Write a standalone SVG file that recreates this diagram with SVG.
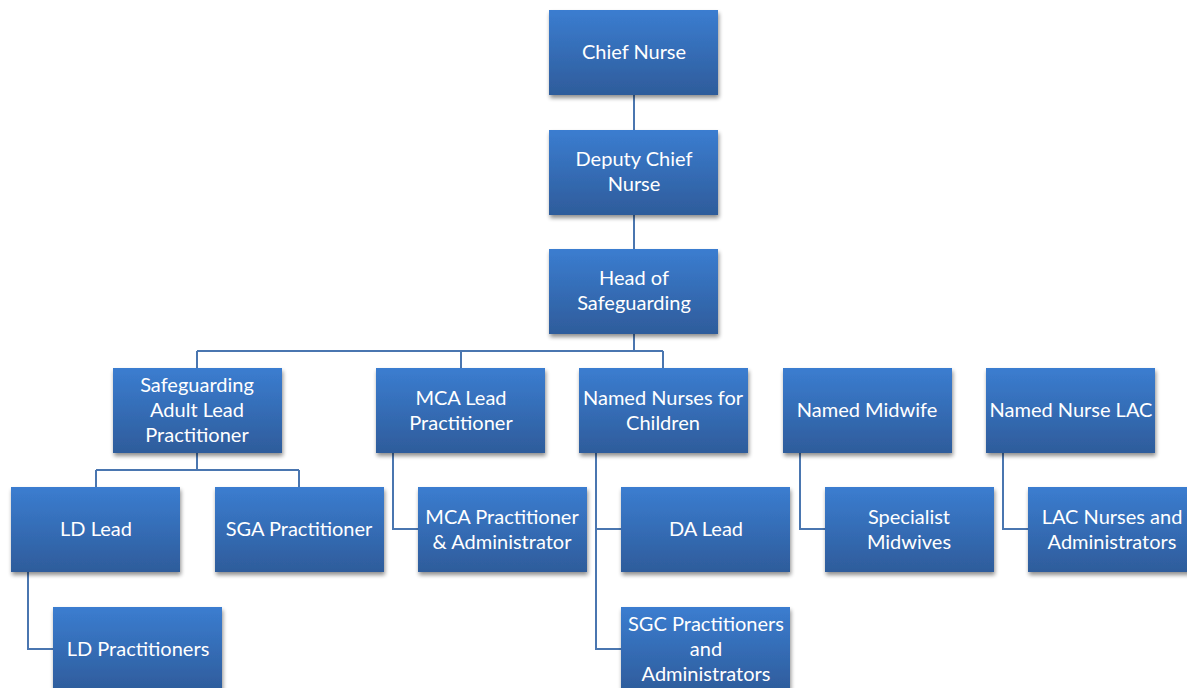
<svg xmlns="http://www.w3.org/2000/svg" width="1187" height="688" viewBox="0 0 1187 688">
<defs>
<linearGradient id="g" x1="0" y1="0" x2="0" y2="1">
<stop offset="0" stop-color="#3b7dd0"/>
<stop offset="1" stop-color="#2e5c9b"/>
</linearGradient>
<filter id="sh" x="-10%" y="-10%" width="125%" height="130%">
<feGaussianBlur in="SourceAlpha" stdDeviation="2"/>
<feOffset dx="1" dy="3" result="b"/>
<feComponentTransfer><feFuncA type="linear" slope="0.45"/></feComponentTransfer>
<feMerge><feMergeNode/><feMergeNode in="SourceGraphic"/></feMerge>
</filter>
</defs>
<style>
rect.n{fill:url(#g);filter:url(#sh)}
text{font-family:Lato,"Open Sans",sans-serif;font-size:20px;fill:#ffffff;text-anchor:middle;dominant-baseline:central}
#connectors path{fill:none;stroke:#4a76b0;stroke-width:2}
</style>
<rect width="1187" height="688" fill="#ffffff"/>
<g id="connectors">
<path d="M634 95V130"/>
<path d="M634 215V249"/>
<path d="M634 334V351M197 351H663M197 351V368M461 351V368M663 351V368"/>
<path d="M197 453V470M96 470H299M96 470V487M299 470V487"/>
<path d="M393 453V529H418"/>
<path d="M596 453V649H621M596 529H621"/>
<path d="M800 453V529H825"/>
<path d="M1003 453V529H1028"/>
<path d="M28 572V649H53"/>
</g>
<g id="chief"><rect class="n" x="549" y="10" width="169" height="85"/><text x="634" y="51">Chief Nurse</text></g>
<g id="deputy"><rect class="n" x="549" y="130" width="169" height="85"/><text x="634" y="158">Deputy Chief</text><text x="634" y="183">Nurse</text></g>
<g id="head"><rect class="n" x="549" y="249" width="169" height="85"/><text x="634" y="277">Head of</text><text x="634" y="302">Safeguarding</text></g>
<g id="sal"><rect class="n" x="113" y="368" width="169" height="85"/><text x="197" y="384">Safeguarding</text><text x="197" y="409">Adult Lead</text><text x="197" y="434">Practitioner</text></g>
<g id="mcalead"><rect class="n" x="376" y="368" width="169" height="85"/><text x="461" y="397">MCA Lead</text><text x="461" y="422">Practitioner</text></g>
<g id="nnc"><rect class="n" x="579" y="368" width="169" height="85"/><text x="663" y="397">Named Nurses for</text><text x="663" y="422">Children</text></g>
<g id="midwife"><rect class="n" x="783" y="368" width="169" height="85"/><text x="867" y="409">Named Midwife</text></g>
<g id="nnlac"><rect class="n" x="986" y="368" width="169" height="85"/><text x="1071" y="409">Named Nurse LAC</text></g>
<g id="ldlead"><rect class="n" x="11" y="487" width="169" height="85"/><text x="96" y="528">LD Lead</text></g>
<g id="sga"><rect class="n" x="215" y="487" width="169" height="85"/><text x="299" y="528">SGA Practitioner</text></g>
<g id="mcaprac"><rect class="n" x="418" y="487" width="169" height="85"/><text x="502" y="516">MCA Practitioner</text><text x="502" y="541">&amp; Administrator</text></g>
<g id="dalead"><rect class="n" x="621" y="487" width="169" height="85"/><text x="706" y="528">DA Lead</text></g>
<g id="specmid"><rect class="n" x="825" y="487" width="169" height="85"/><text x="909" y="516">Specialist</text><text x="909" y="541">Midwives</text></g>
<g id="lacnurses"><rect class="n" x="1028" y="487" width="169" height="85"/><text x="1112" y="516">LAC Nurses and</text><text x="1112" y="541">Administrators</text></g>
<g id="ldprac"><rect class="n" x="53" y="607" width="169" height="85"/><text x="138" y="648">LD Practitioners</text></g>
<g id="sgc"><rect class="n" x="621" y="607" width="169" height="85"/><text x="706" y="623">SGC Practitioners</text><text x="706" y="648">and</text><text x="706" y="673">Administrators</text></g>
</svg>
